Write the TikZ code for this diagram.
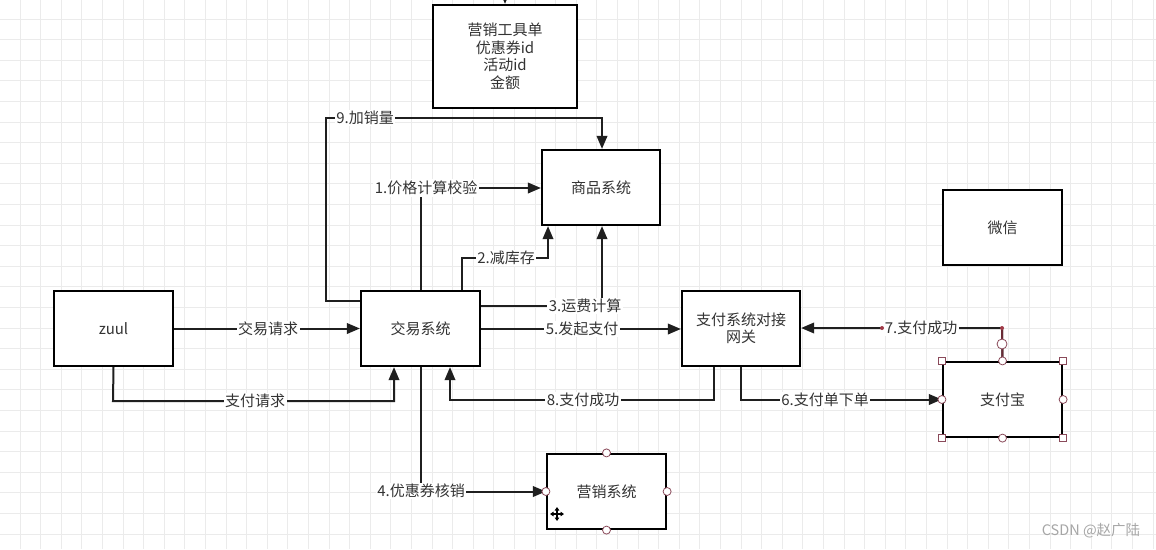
\documentclass[tikz,border=0pt]{standalone}
\usepackage{fontspec}
\newfontfamily\cjk{Noto Sans CJK SC}
\usetikzlibrary{arrows.meta}
\definecolor{txt}{HTML}{333333}
\definecolor{gridc}{HTML}{EBEBEB}
\definecolor{selc}{HTML}{8A4A5A}
\definecolor{selline}{HTML}{6A2A35}
\tikzset{
  box/.style={draw=black, line width=2.2pt, fill=white, text=txt, font=\cjk\fontsize{15}{17.5}\selectfont, align=center, inner sep=0pt},
  arr/.style={draw=black!88, line width=2pt, -{Triangle[length=13pt,width=10.5pt]}},
  lab/.style={fill=white, text=txt, font=\cjk\fontsize{15}{17}\selectfont, inner sep=1.5pt},
  hcirc/.style={draw=selc, fill=white, line width=0.8pt, circle, inner sep=0pt, minimum size=8pt},
  hsq/.style={draw=selc, fill=white, line width=0.8pt, rectangle, inner sep=0pt, minimum size=6.5pt},
}
\begin{document}
\begin{tikzpicture}[x=1pt,y=-1pt]
\useasboundingbox (0,0) rectangle (1156,549);
\fill[white] (0,0) rectangle (1156,549);
\foreach \i in {0,...,56} { \draw[gridc, line width=0.8pt] ({20+\i*20.6},0) -- ({20+\i*20.6},549); }
\foreach \j in {0,...,27} { \draw[gridc, line width=0.8pt] (0,{-1.6+\j*20.6}) -- (1156,{-1.6+\j*20.6}); }

% boxes
\node[box, minimum width=144pt, minimum height=103pt] (tool) at (505,56.5) {营销工具单\\优惠券id\\活动id\\金额};
\node[box, minimum width=118pt, minimum height=75pt] (goods) at (601,187.5) {商品系统};
\node[box, minimum width=119pt, minimum height=75pt] (trade) at (420.5,328.5) {交易系统};
\node[box, minimum width=119pt, minimum height=75pt] (zuul) at (113.5,328.5) {zuul};
\node[box, minimum width=118pt, minimum height=75pt] (gw) at (741,328.5) {支付系统对接\\网关};
\node[box, minimum width=119pt, minimum height=75pt] (ali) at (1002.5,399.5) {支付宝};
\node[box, minimum width=119pt, minimum height=75pt] (mkt) at (606.5,491.5) {营销系统};
\node[box, minimum width=119pt, minimum height=75pt] (wx) at (1002.5,227.5) {微信};

% top incoming arrow
\coordinate (topin) at (505,-12);
\draw[arr] (topin) -- (tool.north);

% 9
\draw[arr] (trade.north west |- 0,301) -- (326,301) -- (326,118) -- (602,118) -- (goods.north -| 602,0);
\node[lab] (l9) at (365,118) {9.加销量};
% 1
\draw[arr] (trade.north -| 421,0) -- (421,188) -- (goods.west |- 0,188);
\node[lab] (l1) at (426,188) {1.价格计算校验};
% 2
\draw[arr] (trade.north -| 462,0) -- (462,258) -- (548,258) -- (goods.south -| 548,0);
\node[lab] (l2) at (506,258) {2.减库存};
% 3
\draw[arr] (trade.east |- 0,306) -- (602,306) -- (goods.south -| 602,0);
\node[lab] (l3) at (585,306) {3.运费计算};
% 5
\draw[arr] (trade.east |- 0,329) -- (gw.west |- 0,329);
\node[lab] (l5) at (582,329) {5.发起支付};
% request
\draw[arr] (zuul.east) -- (trade.west);
\node[lab] (lq) at (268,329) {交易请求};
\draw[arr] (zuul.south) -- (113,401) -- (394,401) -- (trade.south -| 394,0);
\node[lab] (lp) at (255,401) {支付请求};
% 8
\draw[arr] (gw.south -| 714,0) -- (714,400) -- (450,400) -- (trade.south -| 450,0);
\node[lab] (l8) at (583,400) {8.支付成功};
% 6
\draw[arr] (gw.south -| 741,0) -- (741,399.5) -- (ali.west);
\node[lab] (l6) at (825,400) {6.支付单下单};
% 7
\draw[arr] (ali.north) -- (1002,328) -- (gw.east |- 0,328);
\draw[selline, line width=2pt] (ali.north) -- (1002,328);
\node[lab] (l7) at (921,328) {7.支付成功};
\fill[selc!80!red] (882,328) circle (2pt);
\fill[selc!80!red] (1002,328) circle (2pt);
\node[hcirc, minimum size=10pt] (h7) at (1002,344) {};

% 4
\draw[arr] (trade.south -| 421,0) -- (421,491.5) -- (mkt.west);
\node[lab] (l4) at (421,491) {4.优惠券核销};

% selection handles on 支付宝
\foreach \a in {north west, north east, south west, south east} { \node[hsq] at (ali.\a) {}; }
\foreach \a in {north, south, west, east} { \node[hcirc] at (ali.\a) {}; }
% handles on 营销系统
\foreach \a in {north, south, west, east} { \node[hcirc] at (mkt.\a) {}; }

% move cursor
\begin{scope}[shift={(557,514)}]
  \draw[white, line width=3pt] (-7,0) -- (7,0) (0,-7) -- (0,7);
  \draw[black, line width=1.2pt, {Triangle[length=3.5pt,width=4.5pt]}-{Triangle[length=3.5pt,width=4.5pt]}] (-7,0) -- (7,0);
  \draw[black, line width=1.2pt, {Triangle[length=3.5pt,width=4.5pt]}-{Triangle[length=3.5pt,width=4.5pt]}] (0,-7) -- (0,7);
\end{scope}

% watermark
\node[text=gray!70, font=\cjk\fontsize{14.5}{16}\selectfont, inner sep=0pt] (wm) at (1091,531) {CSDN @赵广陆};
\end{tikzpicture}
\end{document}
